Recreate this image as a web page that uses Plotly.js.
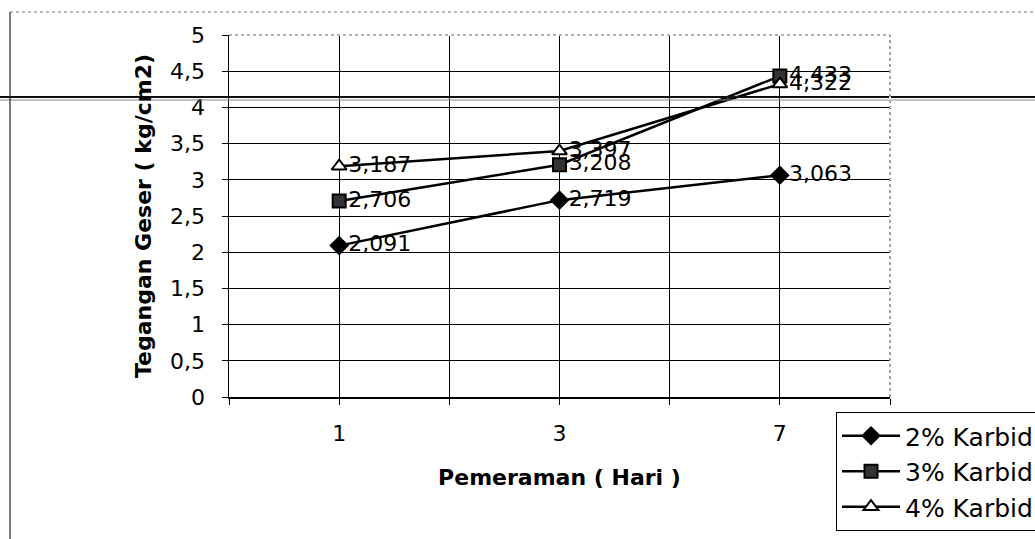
<!DOCTYPE html>
<html>
<head>
<meta charset="utf-8">
<script src="https://cdn.plot.ly/plotly-3.0.1.min.js"></script>
<style>
  html, body { margin: 0; padding: 0; background: #fff; }
  #chart { width: 1035px; height: 539px; }
</style>
</head>
<body>
<div id="chart"></div>
<script>
// Curing time (days) on the category axis
const categories = ['1', '3', '7'];

// Shear stress (kg/cm2) for each carbide content
const karbid2 = [2.091, 2.719, 3.063];
const karbid3 = [2.706, 3.208, 4.433];
const karbid4 = [3.187, 3.397, 4.322];

const seriesNames = ['2% Karbid', '3% Karbid', '4% Karbid'];
const yTickValues = [0, 0.5, 1, 1.5, 2, 2.5, 3, 3.5, 4, 4.5, 5];

const FONT = 'DejaVu Sans, Arial, sans-serif';

// Categories sit at integer positions; grid and ticks also mark the half steps
const xPos = categories.map((c, i) => i);
const xTickVals = [];
const xTickText = [];
for (let v = -0.5; v <= categories.length - 0.5 + 1e-9; v += 0.5) {
  xTickVals.push(v);
  const idx = Math.round(v);
  xTickText.push(Math.abs(v - idx) < 1e-9 ? categories[idx] : '');
}

const fmt = v => v.toFixed(3).replace('.', ',');

function series(name, values, symbol, fill) {
  return {
    type: 'scatter',
    mode: 'lines+markers+text',
    name: name,
    x: xPos,
    y: values,
    text: values.map(fmt),
    textposition: 'middle right',
    textfont: { family: FONT, size: 22, color: '#000' },
    line: { color: '#000', width: 2.5 },
    marker: { symbol: symbol, size: 13, color: fill, line: { color: '#000', width: 2 } },
    cliponaxis: false,
    hoverinfo: 'skip'
  };
}

const traces = [
  series(seriesNames[0], karbid2, 'diamond', '#000'),
  series(seriesNames[1], karbid3, 'square', '#333'),
  series(seriesNames[2], karbid4, 'triangle-up', '#fff')
];

// Page frame lines around the figure, and the dotted top/right plot border
const frame = [
  { type: 'line', xref: 'paper', yref: 'paper', x0: -229 / 661, x1: 806 / 661, y0: 300 / 362, y1: 300 / 362, line: { color: '#111', width: 2 } },
  { type: 'line', xref: 'paper', yref: 'paper', x0: -229 / 661, x1: 806 / 661, y0: 297 / 362, y1: 297 / 362, line: { color: '#888', width: 1 } },
  { type: 'line', xref: 'paper', yref: 'paper', x0: -219 / 661, x1: -219 / 661, y0: 385 / 362, y1: -142 / 362, line: { color: '#222', width: 1.2 } },
  { type: 'line', xref: 'paper', yref: 'paper', x0: -219 / 661, x1: 806 / 661, y0: 385 / 362, y1: 385 / 362, line: { color: '#777', width: 1, dash: 'dot' } },
  { type: 'line', xref: 'paper', yref: 'paper', x0: 0.003, x1: 1.003, y0: 1, y1: 1, line: { color: '#fff', width: 2 } },
  { type: 'line', xref: 'paper', yref: 'paper', x0: 1, x1: 1, y0: 0.004, y1: 1, line: { color: '#fff', width: 2 } },
  { type: 'line', xref: 'paper', yref: 'paper', x0: 0, x1: 1, y0: 1, y1: 1, line: { color: '#666', width: 1.2, dash: 'dot' } },
  { type: 'line', xref: 'paper', yref: 'paper', x0: 1, x1: 1, y0: 0, y1: 1, line: { color: '#666', width: 1.2, dash: 'dot' } }
];

const layout = {
  width: 1035,
  height: 539,
  margin: { l: 229, r: 145, t: 35, b: 142, autoexpand: false },
  paper_bgcolor: '#fff',
  plot_bgcolor: '#fff',
  separators: ',.',
  font: { family: FONT, size: 22, color: '#000' },
  showlegend: true,
  legend: {
    x: (836 - 229) / 661,
    y: -15 / 362,
    xanchor: 'left',
    yanchor: 'top',
    bordercolor: '#000',
    borderwidth: 1,
    bgcolor: '#fff',
    itemwidth: 58,
    font: { family: FONT, size: 25, color: '#000' }
  },
  xaxis: {
    range: [-0.5, categories.length - 0.5],
    tickmode: 'array',
    tickvals: xTickVals,
    ticktext: xTickText,
    ticks: 'outside',
    ticklen: 6,
    tickcolor: '#000',
    ticklabelstandoff: 10,
    showgrid: true,
    gridcolor: '#000',
    gridwidth: 1,
    showline: true,
    linecolor: '#000',
    linewidth: 1.5,
    zeroline: false,
    fixedrange: true,
    tickfont: { family: FONT, size: 22 },
    title: { text: '<b>Pemeraman ( Hari )</b>', font: { family: FONT, size: 22 }, standoff: 24 }
  },
  yaxis: {
    range: [0, 5],
    tickmode: 'array',
    tickvals: yTickValues,
    ticks: 'outside',
    ticklen: 6,
    tickcolor: '#000',
    ticklabelstandoff: 12,
    showgrid: true,
    gridcolor: '#000',
    gridwidth: 1,
    showline: true,
    linecolor: '#000',
    linewidth: 1.5,
    zeroline: false,
    fixedrange: true,
    tickfont: { family: FONT, size: 22 },
    title: { text: '<b>Tegangan Geser ( kg/cm2)</b>', font: { family: FONT, size: 22 }, standoff: 12 }
  },
  shapes: frame
};

Plotly.newPlot('chart', traces, layout, { staticPlot: true, displayModeBar: false });
</script>
</body>
</html>
